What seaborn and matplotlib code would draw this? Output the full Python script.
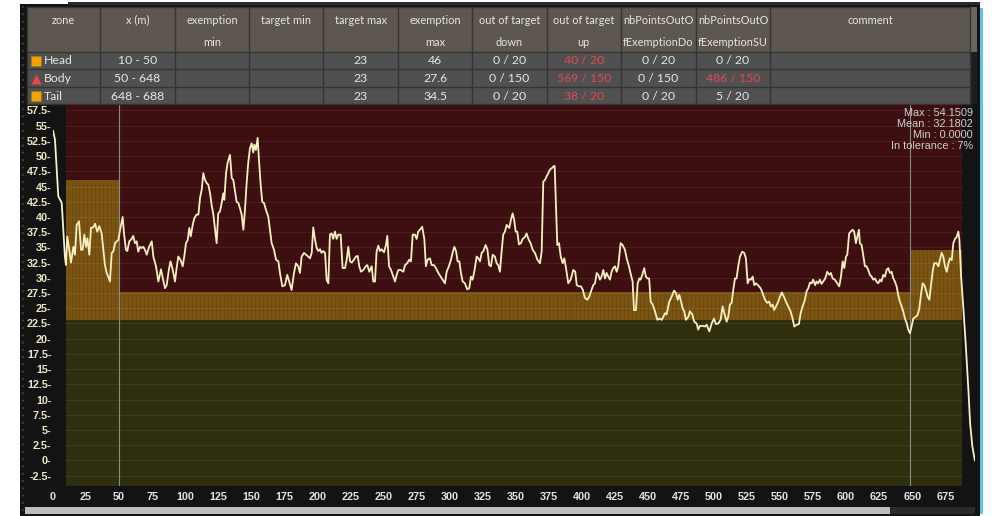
import numpy as np
import pandas as pd
import matplotlib
matplotlib.use("Agg")
import matplotlib.pyplot as plt
from matplotlib.patches import Rectangle
import seaborn as sns

# ---------------- data ----------------
zone_names = ["Head", "Body", "Tail"]
zone_start = [10, 50, 648]
zone_end = [50, 648, 688]
target_min = ["", "", ""]
exemption_min = ["", "", ""]
target_max = [23, 23, 23]
exemption_max = [46, 27.6, 34.5]
out_down = ["0 / 20", "0 / 150", "0 / 20"]
out_up = ["40 / 20", "569 / 150", "38 / 20"]
nb_out_do = ["0 / 20", "0 / 150", "0 / 20"]
nb_out_su = ["0 / 20", "486 / 150", "5 / 20"]
comments = ["", "", ""]
headers = ["zone", "x (m)", "exemption\nmin", "target min", "target max",
           "exemption\nmax", "out of target\ndown", "out of target\nup",
           "nbPointsOutO\nfExemptionDo", "nbPointsOutO\nfExemptionSU", "comment"]
stats_text = ["Max : 54.1509", "Mean : 32.1802", "Min : 0.0000", "In tolerance : 7%"]

pos_x = [0, 1.5, 4, 6.6, 9, 9.8, 10.8, 12.3, 13.6, 15.4, 16.6, 17.9, 19.7, 21.2, 22.4, 23.7, 25, 26, 27.5, 28.7,
         30.5, 31.8, 33.5, 35, 36.8, 38.1, 39.3, 40.6, 41.8, 43.1, 44.4, 45.6, 46.9, 48.2, 49.4, 51.2, 52.7, 53.7,
         55.2, 56.2, 57.7, 59.5, 60.7, 62, 63.3, 64.5, 65.8, 67, 68.3, 69.6, 70.9, 72.7, 74.7, 75.9, 77.9, 79.7,
         81.7, 83, 84.7, 86, 87.7, 88.9, 90.5, 92.3, 93.5, 94.8, 96.6, 98.1, 99.3, 100.6, 101.9, 103.1, 104.2,
         105.7, 106.9, 108.7, 110, 111.2, 112.5, 113.7, 115, 116.2, 117.5, 118.8, 120, 121.3, 122.5, 123.8, 125,
         126.3, 127.6, 128.8, 129.6, 130.9, 132.1, 133.9, 135.2, 136.4, 137.7, 138.9, 140.2, 141.5, 142.7, 144,
         145.2, 146.5, 147.7, 149, 150.3, 151.5, 152.3, 153.5, 154.8, 155.8, 157.1, 158.3, 159.6, 161.1, 162.9,
         164.1, 165.4, 167.2, 168.7, 170.5, 171.7, 173.5, 175.5, 177.2, 178.7,
         180.5, 182.3, 183.8, 185.5, 186.8, 188.1, 189.9, 191.4, 193.1, 194.4, 195.7, 196.9, 198.2, 199.5, 200.7,
         202, 203.2, 204.5, 205.8, 207, 208.3, 209.5, 210.8, 212, 213.3, 214.6, 215.8, 217.6, 219.1, 220.9, 222.2,
         223.4, 224.7, 226, 227.7, 229.2, 230.5, 231.7, 233, 234.8, 236.6, 237.8, 239.3, 241.1, 242.3, 243.6,
         244.8, 246.1, 247.4, 248.6, 250.4, 251.9, 252.9, 254.2, 255.7, 257, 258.7, 260, 261.3, 263, 265, 266.3,
         268, 269.5, 270.8, 272.1, 273.8, 275.1, 276.3, 277.6, 279.3, 280.9, 282.1, 283.4, 285.2, 286.4, 288.2,
         289.7, 291.5, 293.3, 294.8, 296.5, 297.8, 299.5, 301.1, 302.3, 303.6, 304.9, 306.1, 307.4, 308.6, 309.9,
         311.6, 313.4, 314.9, 316.2, 317.4, 318.7, 320.5, 321.8, 323, 324.3, 325.6, 327.3, 328.6, 330, 331.3,
         332.6, 334.3, 335.6, 336.8, 338.1, 339.4, 340.6, 341.9, 343.2, 345.2, 346.4, 347.7, 348.9, 350, 351.2,
         352.5, 354, 355.3, 357, 358.3, 359.6, 361.3, 362.9, 364.6, 366.4, 368.4, 369.7, 370.9, 372.2, 373.5,
         374.7, 376, 377.3, 378.5, 379.5, 380.5, 381.5, 382.8, 384.1, 385.6, 386.8, 388.1, 389.8, 391.6, 393.6,
         395.1, 396.2, 397.9, 399.4, 400.7, 402.4, 404.2, 405.7, 407.5, 408.7, 410, 411.3, 412.5, 413.8, 415,
         416.3, 417.6, 418.8, 420.1, 421.3, 422.6, 423.8, 425.1, 426.4, 427.6, 429.4, 430.9, 432.7, 434, 435.7,
         437.2, 438.5, 439.5, 441, 442.3, 443.6, 444.5, 445.8, 447.3, 448.5, 449.8, 451, 452.1, 453.6, 455.4,
         457.2, 458.7, 460.5, 461.7, 463, 464.2, 466.2, 468, 469.8, 471.3, 472.6, 473.8, 474.8, 476.3, 477.5,
         478.8, 480.6, 481.8, 483.6, 485.1, 486.9, 488.1, 489.4, 491.5, 493.2, 494.5, 496.5, 498.3, 500, 501.5,
         503.3, 505, 506.6, 507.8, 509.6, 510.8, 512.1, 513.4, 514.6, 515.9, 517.1, 518.4, 519.7, 521.4, 522.9,
         524.2, 525.5, 526.7, 528, 529.3, 530.5, 531.8, 533.3, 535.3, 536.8, 538.6, 540.3, 541.8, 543.1, 544.4,
         545.6, 546.9, 548.7, 549.9, 551.4, 552.9, 554.5, 556.2, 558, 559.5, 560.8, 562.6, 564.3, 565.6, 567.1,
         568.8, 570.1, 571.4, 572.6, 573.9, 575.1, 576.6, 577.6, 578.9, 580.1, 581.4, 582.6, 584.2, 585.7, 587.3,
         588.5, 589.8, 591.5, 593.3, 594.8, 596.1, 597.4, 598.6, 599.9, 600.9, 602.3, 603.5, 604.9, 606.1, 607.4,
         608.4, 609.7, 610.4, 611.7, 612.9, 614.2, 615.5, 616.7, 618, 619.3, 620.5, 621.8, 623, 624.3, 625.6,
         626.8, 628.1, 629.4, 630.6, 631.9, 633.1, 634.4, 635.7, 636.9, 638.2, 639.4, 640.7, 642, 643.2, 644.5,
         645.8, 647, 648.3, 649.5, 650.8, 652.6, 654.1, 655.4, 656.6, 657.9, 659.2, 660.4, 661.7, 663, 664.1,
         665.6, 666.7, 668.5, 669.8, 671, 672.3, 673.5, 674.8, 676.1, 677.4, 678.5, 679.9, 681.1, 682.4, 683.6,
         684.9, 685.7, 687, 688.7, 690.5, 692.5, 693.8, 695.5, 697.4]
values = [54.2, 52.7, 43.4, 42.3, 33.5, 32.1, 36.8, 34.6, 32.5, 35.1, 33.8, 38.7, 39.3, 34.6, 34.6, 37.1, 35.1, 36.5,
          33.8, 38.2, 38.3, 38.9, 37.6, 38.5, 37.3, 34.6, 32.1, 30.8, 30.2, 29.4, 34.1, 34.3, 35.7, 36, 36.2, 38.4,
          40, 37.3, 34.6, 34.4, 36, 36.4, 36.9, 35.7, 36, 34.3, 35.1, 34.9, 35.1, 34.6, 33.8, 35.1, 36, 33.5, 31.9,
          29.4, 31.4, 30, 28.3, 28.8, 31.4, 32.7, 31.4, 29.4, 31.6, 33.5, 32.9, 31.9, 33.5, 35.7, 36.2, 38.2, 36.8,
          38.7, 39.8, 40.4, 40.4, 43.1, 44.5, 47.2, 46.1, 45.6, 45.3, 43.9, 42, 40.4, 38.2, 35.7, 40.6, 40.9, 42.3,
          43.9, 42.8, 47.2, 48.9, 50.2, 46.4, 46.1, 44.2, 42.5, 42.3, 41.4, 40.4, 37.9, 41.1, 45.6, 48.9, 51.3,
          52.1, 50.6, 51.9, 51, 53, 49.4, 45.3, 42.5, 42.3, 41.2, 40, 37.9, 35.7, 34.6, 33, 32.7, 30.8, 28.6, 28.8,
          30.5, 29.4,
          28, 30.8, 32.4, 31.9, 30.8, 33.5, 34.1, 33.8, 33.5, 33.2, 34.1, 38.3, 36.3, 34.9, 34.4, 34.7, 34.1, 34.4,
          34.1, 29.7, 29.1, 37.1, 37.3, 36.4, 37.6, 36.4, 37.1, 37.1, 31.6, 31.6, 33, 35.1, 32.7, 32.5, 33, 33.5,
          33.6, 31.9, 31.0, 31.3, 31.9, 32.1, 31.0, 31.9, 29.4, 29.4, 34.3, 35.3, 34.4, 34.7, 34.2, 35.4, 36.9,
          31.9, 31.3, 30.5, 29.4, 30.5, 31.3, 31.3, 31.0, 32.1, 32.4, 33, 32.7, 37.1, 37.1, 36.4, 37.6, 37.9, 38.4,
          36.4, 31.9, 33, 33.2, 32.1, 32.1, 31.6, 30.8, 30.2, 29.7, 29.1, 31.0, 31.9, 33, 34.1, 35.1, 34.4, 32.7,
          32.7, 30.8, 29.4, 29.1, 28.1, 28.3, 30.2, 29.7, 31.0, 33.5, 33.2, 32.7, 34.1, 34.4, 35.4, 34.7, 32.1,
          31.9, 33.8, 33.5, 32.4, 32.1, 31.0, 34.4, 37.1, 37.6, 38.7, 38.2, 39.5, 40.6, 39.5, 37.6, 37.6, 35.5,
          35.7, 36.4, 36.7, 37.3, 36.4, 35.7, 34.6, 34.1, 33, 32.4, 34.4, 45.8, 46.1, 46.7, 47.2, 47.8, 48.0, 48.3,
          48.4, 41.7, 35.4, 35.7, 33.5, 32.4, 33.2, 31.6, 29.1, 29.7, 31.3, 31.0, 28.8, 28.6, 28.6, 28.1, 26.7,
          26.4, 26.9, 28.1, 28.8, 29.1, 30.8, 30.5, 29.7, 30.2, 31.3, 29.9, 30.8, 30.2, 29.7, 31.0, 31.6, 31.9,
          31.0, 31.9, 35.7, 35.4, 34.6, 33.2, 31.9, 30.5, 29.4, 24.7, 24.7, 29.1, 29.9, 29.7, 30.5, 31.6, 30.2,
          29.9, 29.9, 26.1, 25.6, 24.5, 23.1, 23.3, 23.1, 23.6, 24.2, 24.0, 26.1, 26.9, 27.9, 27.5, 26.4, 27.2,
          26.4, 25.0, 24.5, 23.1, 23.6, 24.5, 24.0, 22.8, 22.5, 21.5, 22.1, 22.1, 22.0, 22.3, 21.2, 22.5, 23.3,
          22.4, 22.5, 23.1, 25.3, 24.2, 22.8, 23.6, 25.6, 25.9, 28.0, 29.9, 29.9, 31.9, 33.5, 34.3, 34.1, 33.2,
          29.1, 29.8, 29.7, 30.2, 28.8, 29.1, 28.8, 28.3, 27.5, 26.4, 25.9, 26.1, 25.3, 25.6, 24.7, 25.3, 26.1,
          26.9, 27.6, 26.9, 26.1, 25.3, 24.5, 23.3, 22.0, 22.3, 22.4, 24.2, 25.3, 26.4, 27.8, 28.3, 29.2, 29.1,
          29.7, 28.8, 29.4, 29.1, 29.7, 29.0, 29.4, 29.9, 31.0, 30.5, 30.8, 29.9, 29.7, 29.1, 28.6, 30.2, 32.7,
          31.6, 33.5, 33.8, 37.3, 37.6, 37.9, 37.6, 35.7, 36.7, 37.9, 35.7, 35.4, 33.8, 31.9, 31.9, 31.3, 30.5,
          30.2, 29.7, 29.9, 29.4, 29.1, 29.7, 29.4, 30.5, 30.2, 31.3, 31.6, 30.8, 31.0, 29.9, 29.4, 28.6, 27.2,
          26.1, 25.3, 24.5, 23.3, 22.6, 21.5, 20.9, 22.0, 23.3, 23.6, 23.9, 25.0, 27.2, 29.1, 28.8, 28.0, 26.9,
          26.4, 28.6, 31.3, 32.4, 32.4, 31.9, 33.0, 34.1, 33.5, 31.9, 31.0, 32.4, 33.2, 32.9, 35.7, 36.4, 36.7,
          37.6, 36.2, 30.2, 25.0, 19.0, 11.6, 6.1, 2.3, 0.0]

# ---------------- style ----------------
sns.set_theme(style="dark")
plt.rcParams["font.family"] = ["Liberation Sans", "DejaVu Sans"]

W, H = 992, 516
fig = plt.figure(figsize=(W / 100, H / 100), dpi=100, facecolor="white")

# background / table layer in pixel coordinates
bg = fig.add_axes([0, 0, 1, 1], zorder=0)
bg.set_xlim(0, W)
bg.set_ylim(H, 0)
bg.axis("off")
bg.add_patch(Rectangle((20, 4), 960, 512, color="#131313", lw=0))
bg.add_patch(Rectangle((20, 0), 48, 4, color="white", lw=0))
bg.add_patch(Rectangle((68, 2), 912, 3, color="#2a2a2a", lw=0))
bg.add_patch(Rectangle((979.5, 8), 3.5, 506, color="#5ec3ec", lw=0))
bg.plot([22.5, 22.5], [6, 514], color="#3a3a3a", lw=1.5, ls=(0, (1, 2.5)))

# table
col_edges = [26.7, 100, 175, 249.3, 323.3, 398.3, 472.3, 546.7, 620.7, 696, 770, 970]
head_top, head_bot = 7.3, 51.7
row_edges = [51.7, 69.3, 87.3, 104.3]
border = "#343434"
bg.add_patch(Rectangle((col_edges[0], head_top), col_edges[-1] - col_edges[0], head_bot - head_top,
                       facecolor="#5d574f", edgecolor="none"))
bg.add_patch(Rectangle((col_edges[0], row_edges[0]), col_edges[-1] - col_edges[0],
                       row_edges[-1] - row_edges[0], facecolor="#505050", edgecolor="none"))
bg.add_patch(Rectangle((970, head_top), 7, head_bot - head_top, facecolor="#6a6560", edgecolor="none"))
bg.add_patch(Rectangle((970, row_edges[0]), 7, row_edges[-1] - row_edges[0], facecolor="#1e1e1e", edgecolor="none"))
for xe in col_edges:
    bg.plot([xe, xe], [head_top, row_edges[-1]], color=border, lw=1)
for ye in [head_top] + row_edges:
    bg.plot([col_edges[0], col_edges[-1]], [ye, ye], color=border, lw=1)

tfont = dict(family=["Lato", "DejaVu Sans"], fontsize=7.9, color="#e6e6e6")
for i, h in enumerate(headers):
    cx = (col_edges[i] + col_edges[i + 1]) / 2
    lines = h.split("\n")
    for j, ln in enumerate(lines):
        bg.text(cx, 20 + 22 * j, ln, ha="center", va="center", **tfont)

red_txt = "#e04a4e"
rows = list(zip(zone_names, zone_start, zone_end, exemption_min, target_min, target_max, exemption_max,
                out_down, out_up, nb_out_do, nb_out_su, comments))
markers = ["s", "^", "s"]
marker_cols = ["#f7a100", "#e5474c", "#f7a100"]
for r, row in enumerate(rows):
    cy = (row_edges[r] + row_edges[r + 1]) / 2 + 0.5
    name, xs_, xe_, emin, tmin, tmax, emax, od, ou, nd, nu, com = row
    bg.plot([36.2], [cy], marker=markers[r], color=marker_cols[r], ms=7 if markers[r] == "s" else 7.5,
            mec="none", ls="none")
    rf = dict(tfont)
    rf["fontsize"] = 8.8
    bg.text(43.5, cy, name, ha="left", va="center", **rf)
    cells = [f"{xs_} - {xe_}", emin, tmin, f"{tmax:g}", f"{emax:g}", od, ou, nd, nu, com]
    for k, c in enumerate(cells):
        ci = k + 1
        cx = (col_edges[ci] + col_edges[ci + 1]) / 2
        f = dict(rf)
        if ci in (7, 9) and c:
            left, right = c.split(" / ")
            if float(left) > float(right):
                f["color"] = red_txt
        bg.text(cx, cy, c, ha="center", va="center", **f)

# bottom scrollbar
bg.add_patch(Rectangle((25, 506.5), 950, 7, color="#2a2a2a", lw=0))
bg.add_patch(Rectangle((25, 506.5), 865, 7, color="#bdbdbd", lw=0))

# ---------------- chart ----------------
left_px, right_px, top_px, bot_px = 53, 975, 105, 486
ax = fig.add_axes([left_px / W, 1 - bot_px / H, (right_px - left_px) / W, (bot_px - top_px) / H], zorder=1)
ax.patch.set_alpha(0)
ylo, yhi = -4.2, 58.4
ax.set_xlim(0, 697.5)
ax.set_ylim(ylo, yhi)

col_red = "#3d0f10"
col_orange = "#7a5311"
col_olive = "#2f2e0f"
for xs_, xe_, tmax, emax in zip(zone_start, zone_end, target_max, exemption_max):
    ax.fill_between([xs_, xe_], ylo, tmax, color=col_olive, lw=0, zorder=1)
    ax.fill_between([xs_, xe_], tmax, emax, color=col_orange, lw=0, zorder=1)
    ax.fill_between([xs_, xe_], emax, yhi, color=col_red, lw=0, zorder=1)
    stripe_x = np.arange(xs_ + 1, xe_, 3.0)
    ax.vlines(stripe_x, tmax, emax, color="#5a3c08", lw=0.7, alpha=0.35, zorder=1.1)

yt = np.arange(-2.5, 57.6, 2.5)
for v in yt:
    ax.axhline(v, xmin=10 / 697.5, xmax=688 / 697.5, color="white", alpha=0.07, lw=0.8, zorder=1.5)

for b in zone_start[1:]:
    ax.axvline(b, color="#8a8a8a", lw=0.8, zorder=1.6)

df = pd.DataFrame({"x": pos_x, "value": values})
sns.lineplot(data=df, x="x", y="value", ax=ax, color="#f6f0c2", lw=1.3, sort=False,
             estimator=None, zorder=3)

ax.set_xlabel("")
ax.set_ylabel("")
ax.grid(False)
for s in ax.spines.values():
    s.set_visible(False)
ax.set_yticks(yt)
ax.set_yticklabels([f"{v:g}-" for v in yt])
ax.tick_params(axis="y", length=0, pad=1, labelsize=7.8, labelcolor="#ece5c4")
xt = np.arange(0, 676, 25)
ax.set_xticks(xt)
ax.set_xticklabels([f"{v:g}" for v in xt])
ax.tick_params(axis="x", length=3, width=0.8, color="#bbbbbb", pad=1.5, labelsize=7.8,
               labelcolor="#e2e2e2", direction="out")
for lab in ax.get_yticklabels() + ax.get_xticklabels():
    lab.set_fontweight("bold")

for i, t in enumerate(stats_text):
    fig.text(973 / W, 1 - (113.3 + 11 * i) / H, t, ha="right", va="center", fontsize=7.8,
             color="#d0d0d0", zorder=5)

fig.savefig("out.png", dpi=100, facecolor="white")
